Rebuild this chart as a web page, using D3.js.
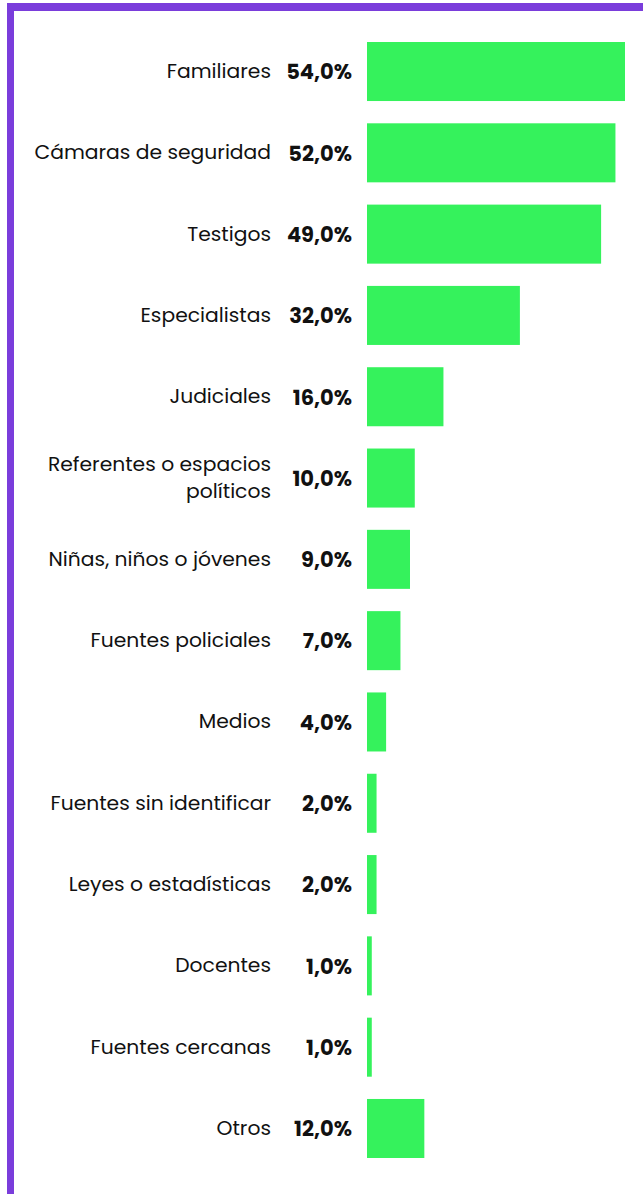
<!DOCTYPE html>
<meta charset="utf-8">
<style>
body { margin: 0; background: #fff; }
.cat { font-family: "Poppins", "Open Sans", sans-serif; font-size: 20.3px; fill: #111; }
.val { font-family: "Poppins", "Open Sans", sans-serif; font-size: 21px; font-weight: 700; fill: #111; }
.bar { fill: #35f25c; }
</style>
<body>
<svg width="643" height="1194"></svg>
</body>
<script src="https://cdn.jsdelivr.net/npm/d3@7"></script>
<script>
var categories = ["Familiares", "Cámaras de seguridad", "Testigos", "Especialistas", "Judiciales",
    "Referentes o espacios políticos", "Niñas, niños o jóvenes", "Fuentes policiales", "Medios",
    "Fuentes sin identificar", "Leyes o estadísticas", "Docentes", "Fuentes cercanas", "Otros"];
var values = [54, 52, 49, 32, 16, 10, 9, 7, 4, 2, 2, 1, 1, 12];

var data = categories.map(function(c, i) { return {name: c, value: values[i]}; });

var svg = d3.select("svg");

// purple frame (top + left)
svg.append("rect").attr("x", 7).attr("y", 3).attr("width", 643).attr("height", 8).attr("fill", "#7a3ddb");
svg.append("rect").attr("x", 7).attr("y", 3).attr("width", 7).attr("height", 1194).attr("fill", "#7a3ddb");

var xScale = d3.scaleLinear()
    .domain([0, 54])
    .range([367, 625]);

var yScale = d3.scaleBand()
    .domain(categories)
    .range([42, 1158])
    .paddingInner(0.274)
    .paddingOuter(0);

var row = svg.append("g")
    .selectAll("g")
    .data(data)
    .enter().append("g");

row.append("rect")
    .attr("class", "bar")
    .attr("x", xScale(0))
    .attr("y", function(d) { return yScale(d.name); })
    .attr("width", function(d) { return xScale(d.value) - xScale(0); })
    .attr("height", yScale.bandwidth());

row.append("text")
    .attr("class", "val")
    .attr("x", 352)
    .attr("y", function(d) { return yScale(d.name) + yScale.bandwidth() / 2; })
    .attr("dy", "0.37em")
    .attr("text-anchor", "end")
    .text(function(d) { return d3.format(".1f")(d.value).replace(".", ",") + "%"; });

var cat = row.append("text")
    .attr("class", "cat")
    .attr("x", 271)
    .attr("text-anchor", "end");

// wrap long labels into two lines
cat.each(function(d) {
    var t = d3.select(this);
    var words = d.name.split(" ");
    var lines = [];
    var line = [];
    var probe = t.append("tspan");
    words.forEach(function(w) {
        line.push(w);
        probe.text(line.join(" "));
        if (probe.node().getComputedTextLength() > 250 && line.length > 1) {
            line.pop();
            lines.push(line.join(" "));
            line = [w];
        }
    });
    lines.push(line.join(" "));
    probe.remove();
    var cy = yScale(d.name) + yScale.bandwidth() / 2;
    var lh = 27.7;
    lines.forEach(function(l, i) {
        t.append("tspan")
            .attr("x", 271)
            .attr("y", cy - (lines.length - 1) * lh / 2 + i * lh)
            .attr("dy", "0.32em")
            .text(l);
    });
});
</script>
